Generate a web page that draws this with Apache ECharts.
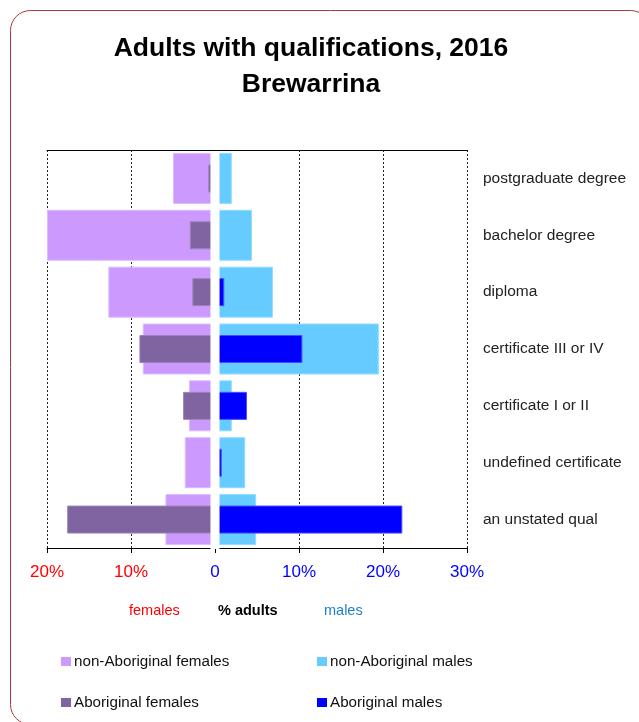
<!DOCTYPE html>
<html>
<head>
<meta charset="utf-8">
<script src="https://cdn.jsdelivr.net/npm/echarts@6/dist/echarts.min.js"></script>
<style>
html,body{margin:0;padding:0;background:#fff;}
#c{width:639px;height:722px;}
</style>
</head>
<body>
<div id="c"></div>
<script>
var categories = ['postgraduate degree', 'bachelor degree', 'diploma', 'certificate III or IV', 'certificate I or II', 'undefined certificate', 'an unstated qual'];
var nonAboFemales = [5.0, 20.0, 12.7, 8.6, 3.1, 3.6, 5.9];
var aboFemales = [0.8, 3.0, 2.7, 9.0, 3.8, 0, 17.6];
var nonAboMales = [2.0, 4.4, 6.9, 19.5, 2.0, 3.6, 4.9];
var aboMales = [0, 0, 1.1, 10.4, 3.8, 0.8, 22.3];
var xTicks = [-20, -10, 0, 10, 20, 30];
var gapHalf = 0.54;

var FONT = '"Liberation Sans", Arial, sans-serif';
var chart = echarts.init(document.getElementById('c'), null, {renderer: 'canvas'});

function neg(a) { return a.map(function (v) { return -v; }); }

var option = {
  animation: false,
  backgroundColor: '#fff',
  title: {
    text: 'Adults with qualifications, 2016\nBrewarrina',
    left: 306, top: 25, textAlign: 'center',
    textStyle: {fontFamily: FONT, fontSize: 26.5, fontWeight: 'bold', color: '#000', lineHeight: 36.5}
  },
  legend: [
    {data: ['non-Aboriginal females'], left: 61, top: 654},
    {data: ['non-Aboriginal males'], left: 317, top: 654},
    {data: ['Aboriginal females'], left: 61, top: 695},
    {data: ['Aboriginal males'], left: 317, top: 695}
  ].map(function (l) {
    l.padding = 0; l.icon = 'rect'; l.itemWidth = 10; l.itemHeight = 9;
    l.itemStyle = {borderWidth: 0};
    l.textStyle = {fontFamily: FONT, fontSize: 15.2, color: '#111', padding: [0, 0, 0, -2]};
    l.selectedMode = false;
    return l;
  }),
  grid: {left: 47, right: 172, top: 150, bottom: 174, containLabel: false},
  xAxis: [{
    type: 'value', min: xTicks[0], max: xTicks[xTicks.length - 1], interval: 10,
    position: 'bottom',
    axisLine: {show: true, lineStyle: {color: '#000', width: 1}},
    axisTick: {show: true, length: 5, lineStyle: {color: '#000'}},
    splitLine: {show: true, lineStyle: {color: '#222', type: [2, 2], width: 1}},
    axisLabel: {
      margin: 16, fontFamily: FONT, fontSize: 17,
      formatter: function (v) { return v === 0 ? '0' : Math.abs(v) + '%'; },
      color: function (v) { return Number(v) < 0 ? '#ff0000' : '#0000ff'; }
    }
  }, {
    type: 'value', min: xTicks[0], max: xTicks[xTicks.length - 1], interval: 10,
    position: 'top', z: 10,
    axisLine: {show: true, lineStyle: {color: '#000', width: 1}},
    axisTick: {show: false}, axisLabel: {show: false}, splitLine: {show: false}
  }],
  yAxis: [{
    type: 'category', data: categories, inverse: true, position: 'right',
    axisLine: {show: false}, axisTick: {show: false}, splitLine: {show: false},
    axisLabel: {margin: 16, fontFamily: FONT, fontSize: 15.5, color: '#222', align: 'left'}
  }, {
    type: 'category', data: categories, inverse: true, position: 'right', show: false
  }],
  series: [
    {name: 'non-Aboriginal females', type: 'bar', yAxisIndex: 0, barWidth: 51, barGap: '-100%',
     data: neg(nonAboFemales), itemStyle: {color: '#cc99ff', borderColor: '#dcbcff', borderWidth: 1}, z: 2},
    {name: 'non-Aboriginal males', type: 'bar', yAxisIndex: 0, barWidth: 51, barGap: '-100%',
     data: nonAboMales, itemStyle: {color: '#66ccff', borderColor: '#94dcff', borderWidth: 1}, z: 2},
    {name: 'Aboriginal females', type: 'bar', yAxisIndex: 1, barWidth: 28, barGap: '-100%',
     data: neg(aboFemales), itemStyle: {color: '#8064a2', borderColor: '#9a85b6', borderWidth: 1}, z: 3},
    {name: 'Aboriginal males', type: 'bar', yAxisIndex: 1, barWidth: 28, barGap: '-100%',
     data: aboMales, itemStyle: {color: '#0000ff', borderColor: '#4848ff', borderWidth: 1}, z: 3},
    {name: 'gap', type: 'custom', z: 6, silent: true, yAxisIndex: 0, data: [[0, 0]],
     renderItem: function (params, api) {
       var cs = params.coordSys;
       var a = api.coord([-gapHalf, 0]);
       var b = api.coord([gapHalf, 0]);
       return {type: 'rect', shape: {x: a[0], y: cs.y - 0.5, width: b[0] - a[0], height: cs.height + 1.5},
               style: {fill: '#ffffff'}};
     }}
  ],
  graphic: [
    {type: 'rect', silent: true, shape: {x: 10.5, y: 10.5, width: 640, height: 714, r: 20},
     style: {fill: 'none', stroke: '#a23c3c', lineWidth: 1}},
    {type: 'text', left: 129, top: 603, style: {text: 'females', fill: '#ff0000', font: '14.5px ' + FONT}},
    {type: 'text', left: 218, top: 603, style: {text: '% adults', fill: '#000', font: 'bold 14.5px ' + FONT}},
    {type: 'text', left: 324, top: 603, style: {text: 'males', fill: '#1f7fcf', font: '14.5px ' + FONT}}
  ]
};
chart.setOption(option);
</script>
</body>
</html>
